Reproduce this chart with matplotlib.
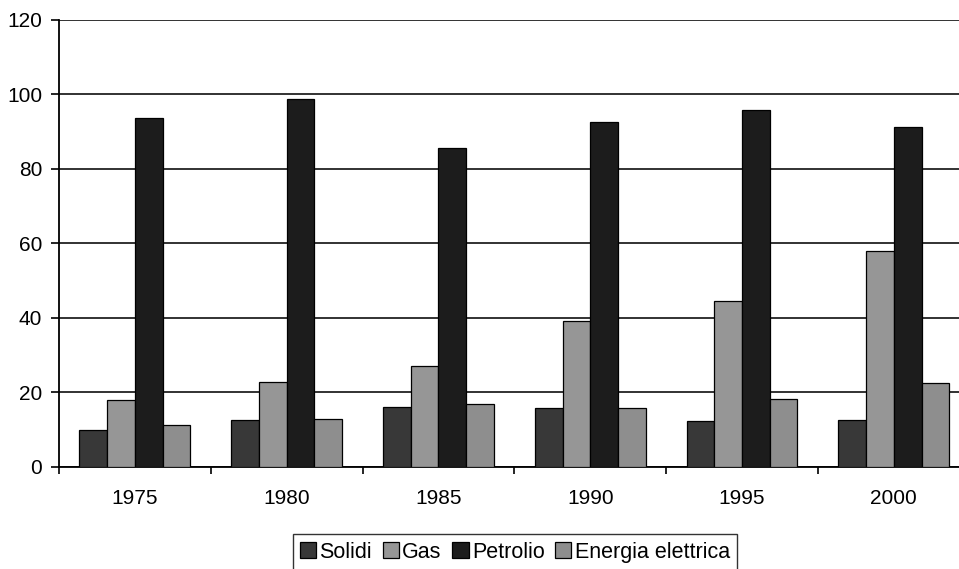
import numpy as np
import matplotlib.pyplot as plt

plt.rcParams["font.family"] = ["Liberation Sans", "DejaVu Sans"]

# -------------------------
# Data
# -------------------------
years = ["1975", "1980", "1985", "1990", "1995", "2000"]
series = ["Solidi", "Gas", "Petrolio", "Energia elettrica"]
solidi = [10.0, 12.6, 16.1, 15.8, 12.4, 12.6]
gas = [18.0, 22.8, 27.1, 39.2, 44.6, 58.0]
petrolio = [93.7, 98.8, 85.6, 92.6, 95.8, 91.3]
energia = [11.3, 12.9, 16.9, 15.8, 18.3, 22.5]
yticks = [0, 20, 40, 60, 80, 100, 120]

colors = ["#383838", "#969696", "#1c1c1c", "#8e8e8e"]

# -------------------------
# Plot
# -------------------------
fig = plt.figure(figsize=(9.59, 5.69), dpi=100)
ax = fig.add_axes([0.0615, 0.1793, 0.9497, 0.7856])

x = np.arange(len(years))
w = 0.1825
for j, (name, vals) in enumerate(zip(series, [solidi, gas, petrolio, energia])):
    ax.bar(x + (j - 1.5) * w, vals, width=w, color=colors[j],
           edgecolor="black", linewidth=0.9, label=name, zorder=3)

ax.set_xlim(-0.5, len(years) - 0.5)
ax.set_ylim(0, 120)
ax.set_yticks(yticks)
ax.yaxis.grid(True, color="#222222", linewidth=1.3, zorder=0)

# labels at category centres, tick marks at category boundaries
ax.set_xticks(x)
ax.set_xticklabels(years)
ax.set_xticks(np.arange(len(years) + 1) - 0.5, minor=True)
ax.tick_params(axis="x", which="major", length=0, pad=16, labelsize=15)
ax.tick_params(axis="x", which="minor", length=5, width=1.2, direction="out")
ax.tick_params(axis="y", length=6, width=1.2, pad=6, labelsize=15)

for side in ["top", "right"]:
    ax.spines[side].set_visible(False)
ax.spines["left"].set_linewidth(1.3)
ax.spines["bottom"].set_linewidth(1.3)

fig.legend(loc="upper center", bbox_to_anchor=(0.537, 0.0615), ncol=4,
           frameon=True, fancybox=False, edgecolor="black", fontsize=15.5,
           handlelength=0.75, handleheight=0.75, handletextpad=0.15,
           columnspacing=0.5, borderpad=0.35, borderaxespad=0)

fig.savefig("out.png", dpi=100)
